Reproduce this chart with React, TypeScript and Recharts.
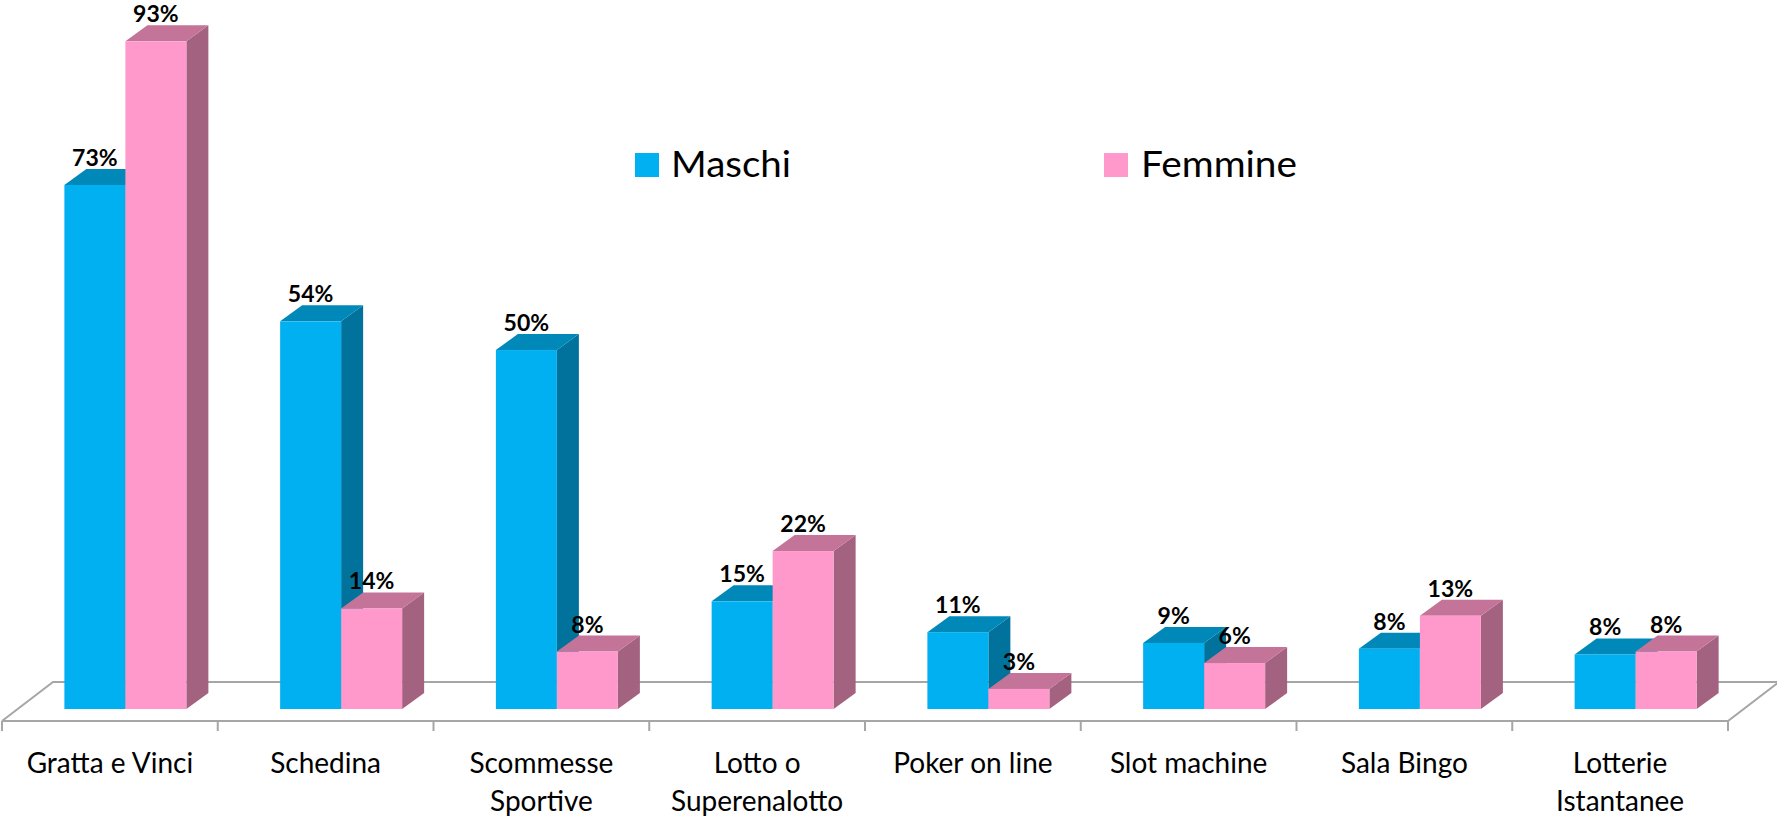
import React from "react";
import { BarChart, Bar, XAxis, YAxis, LabelList, Legend } from "recharts";

const categories = [
  "Gratta e Vinci",
  "Schedina",
  "Scommesse\nSportive",
  "Lotto o\nSuperenalotto",
  "Poker on line",
  "Slot machine",
  "Sala Bingo",
  "Lotterie\nIstantanee",
];
const maschi = [73, 54, 50, 15, 10.7, 9.2, 8.4, 7.6];
const femmine = [93, 14, 8, 22, 2.8, 6.4, 13, 8.0];
const seriesNames = ["Maschi", "Femmine"];

const data = categories.map((c, i) => ({ name: c, maschi: maschi[i], femmine: femmine[i] }));

const W = 1777;
const H = 822;
const M = { top: 27, right: 33, left: 18, bottom: 53 };
const XH = 60;
const PLOT_LEFT = M.left;
const PLOT_RIGHT = W - M.right;
const PLOT_BOTTOM = H - M.bottom - XH;
const DX = 22;
const DY = 16;
const FONT = "Lato, 'Open Sans', sans-serif";

const COLORS = {
  maschi: { front: "#00B0F0", top: "#0088B9", side: "#00729C" },
  femmine: { front: "#FF99CC", top: "#C47399", side: "#A3627F" },
};

const make3D = (c: { front: string; top: string; side: string }) => (props: any) => {
  const { x, y, width, height } = props;
  if (height == null || width == null) return <g />;
  const x2 = x + width;
  const yb = y + height;
  return (
    <g>
      <polygon points={`${x2},${y} ${x2 + DX},${y - DY} ${x2 + DX},${yb - DY} ${x2},${yb}`} fill={c.side} />
      <polygon points={`${x},${y} ${x + DX},${y - DY} ${x2 + DX},${y - DY} ${x2},${y}`} fill={c.top} />
      <rect x={x} y={y} width={width} height={height} fill={c.front} />
    </g>
  );
};

const ValueLabel = (props: any) => {
  const { x, y, width, value } = props;
  return (
    <text x={x + width / 2} y={y - 19} textAnchor="middle" fontFamily={FONT} fontWeight={700} fontSize={23} fill="#000">
      {Math.round(Number(value))}%
    </text>
  );
};

const CatTick = (props: any) => {
  const { x, payload } = props;
  const lines = String(payload.value).split("\n");
  return (
    <text x={x - 16} y={PLOT_BOTTOM + 64} textAnchor="middle" fontFamily={FONT} fontSize={28} fill="#000">
      {lines.map((l, i) => (
        <tspan key={i} x={x - 16} dy={i === 0 ? 0 : 38}>
          {l}
        </tspan>
      ))}
    </text>
  );
};

const LegendContent = () => (
  <svg width={W} height={200} style={{ display: "block" }}>
    <rect x={635} y={153} width={24} height={24} fill={COLORS.maschi.front} />
    <text x={671} y={177} fontFamily={FONT} fontSize={36} textLength={120} lengthAdjust="spacingAndGlyphs" fill="#000">
      {seriesNames[0]}
    </text>
    <rect x={1104} y={153} width={24} height={24} fill={COLORS.femmine.front} />
    <text x={1141} y={177} fontFamily={FONT} fontSize={36} textLength={156} lengthAdjust="spacingAndGlyphs" fill="#000">
      {seriesNames[1]}
    </text>
  </svg>
);

const Floor = () => {
  const fl = PLOT_LEFT - 16;
  const fr = PLOT_RIGHT - 16;
  const fy = PLOT_BOTTOM + 12;
  const bdx = 51;
  const bdy = 39;
  const n = categories.length;
  const step = (fr - fl) / n;
  const ticks = Array.from({ length: n + 1 }, (_, i) => fl + i * step);
  return (
    <svg width={W} height={H} style={{ position: "absolute", left: 0, top: 0 }}>
      <polyline
        points={`${fl},${fy} ${fl + bdx},${fy - bdy} ${fr + bdx},${fy - bdy} ${fr},${fy} ${fl},${fy}`}
        fill="none"
        stroke="#A6A6A6"
        strokeWidth={2}
      />
      {ticks.map((t, i) => (
        <line key={i} x1={t} x2={t} y1={fy} y2={fy + 10} stroke="#A6A6A6" strokeWidth={2} />
      ))}
    </svg>
  );
};

export default function App() {
  return (
    <div style={{ position: "absolute", left: 0, top: 0, width: W, height: H, background: "#fff" }}>
      <Floor />
      <div style={{ position: "absolute", left: 0, top: 0 }}>
        <BarChart width={W} height={H} data={data} margin={M} barGap={0} barCategoryGap="21.5%">
          <XAxis dataKey="name" axisLine={false} tickLine={false} height={XH} interval={0} tick={<CatTick />} />
          <YAxis hide domain={[0, 95]} />
          <Legend verticalAlign="middle" align="center" content={<LegendContent />} wrapperStyle={{ top: 0, left: 0, width: W, height: 200 }} />
          <Bar dataKey="maschi" name={seriesNames[0]} fill={COLORS.maschi.front} shape={make3D(COLORS.maschi)} isAnimationActive={false}>
            <LabelList dataKey="maschi" content={<ValueLabel />} />
          </Bar>
          <Bar dataKey="femmine" name={seriesNames[1]} fill={COLORS.femmine.front} shape={make3D(COLORS.femmine)} isAnimationActive={false}>
            <LabelList dataKey="femmine" content={<ValueLabel />} />
          </Bar>
        </BarChart>
      </div>
    </div>
  );
}
